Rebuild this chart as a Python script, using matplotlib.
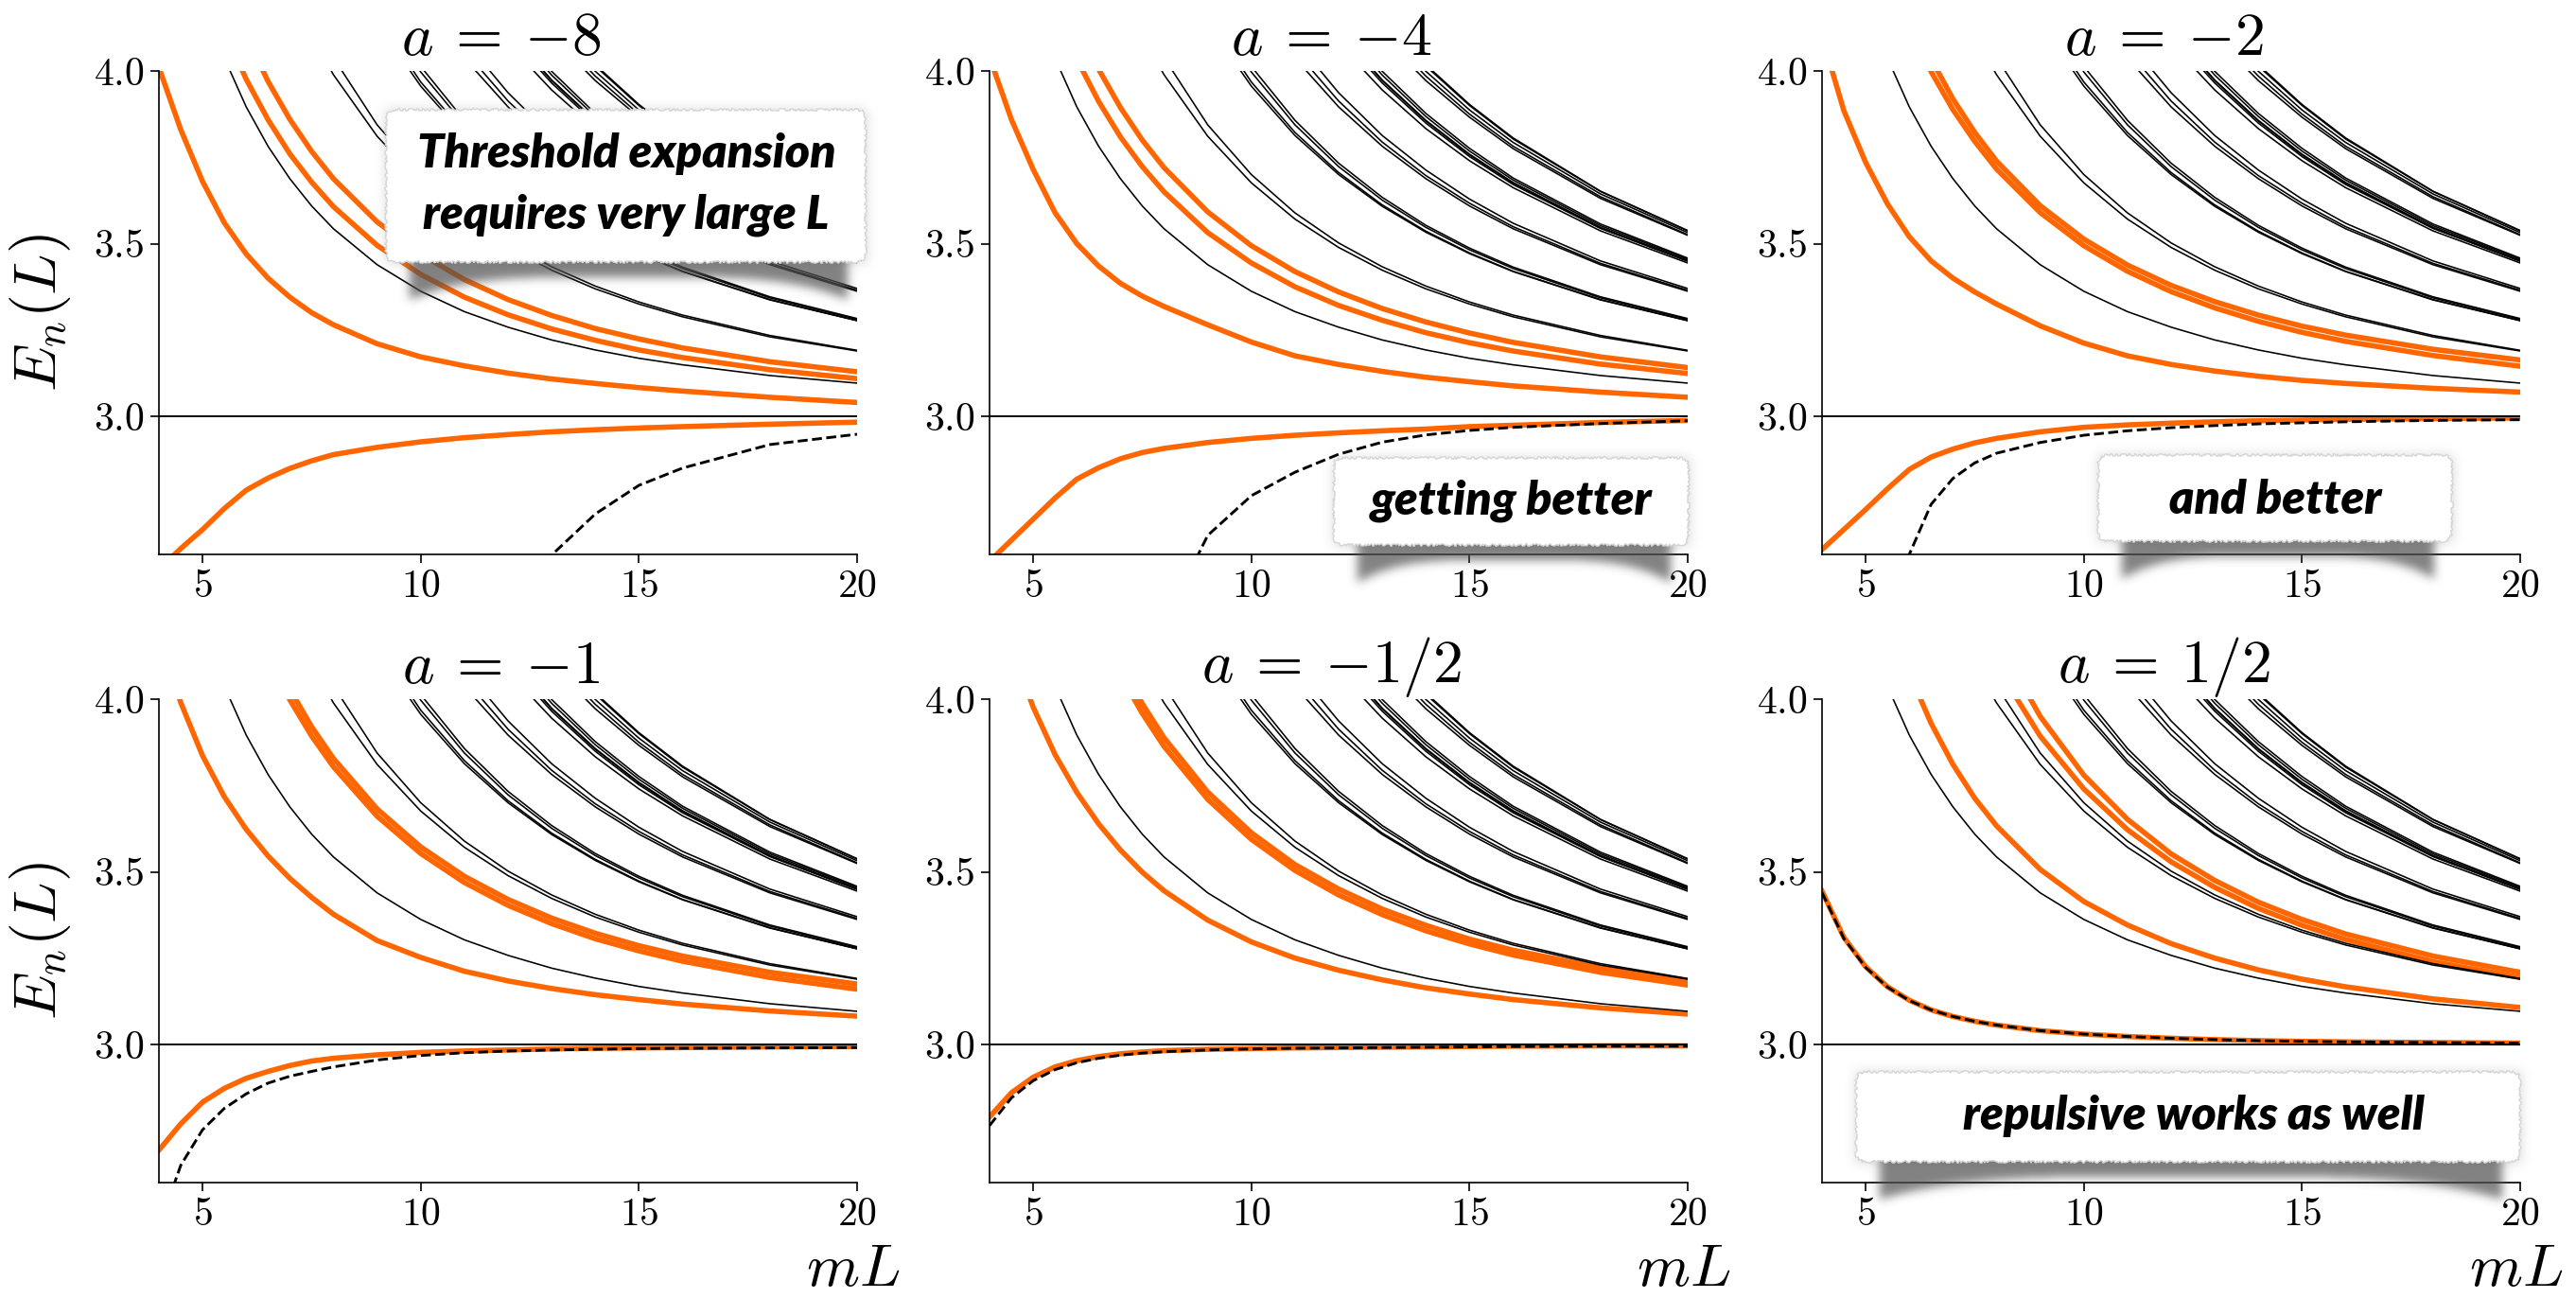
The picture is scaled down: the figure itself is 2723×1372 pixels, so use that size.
import numpy as np
import matplotlib
matplotlib.use("Agg")
import matplotlib.pyplot as plt
from matplotlib.patches import FancyBboxPatch

nan = np.nan

# box size mL on the x axis
L = [4, 4.5, 5, 5.5, 6, 6.5, 7, 7.5, 8, 9, 10, 11, 12, 13, 14, 15, 16, 18, 20]

# free three particle levels (black), same in every panel
free_A = [nan]*3 + [4.037, 3.896, 3.782, 3.688, 3.609, 3.543, 3.439, 3.362, 3.303, 3.258, 3.221, 3.192, 3.168, 3.149, 3.118, 3.096]
free_B = [nan]*7 + [4.160, 4.038, 3.844, 3.700, 3.589, 3.502, 3.433, 3.377, 3.331, 3.293, 3.234, 3.191]
free_C = [nan]*7 + [4.101, 3.989, 3.811, 3.676, 3.571, 3.489, 3.423, 3.369, 3.325, 3.288, 3.230, 3.189]
free_D = [nan]*9 + [4.157, 3.968, 3.822, 3.706, 3.612, 3.536, 3.473, 3.420, 3.338, 3.277]
free_E = [nan]*9 + [4.194, 3.997, 3.844, 3.723, 3.626, 3.547, 3.482, 3.428, 3.343, 3.281]
free_F = [nan]*9 + [4.138, 3.956, 3.813, 3.700, 3.608, 3.533, 3.471, 3.419, 3.337, 3.277]
free_G = [nan]*9 + [4.216, 4.013, 3.857, 3.733, 3.634, 3.553, 3.487, 3.432, 3.346, 3.283]
free_H = [nan]*11 + [4.059, 3.913, 3.794, 3.697, 3.617, 3.549, 3.443, 3.365]
free_I = [nan]*11 + [4.037, 3.896, 3.782, 3.688, 3.609, 3.543, 3.439, 3.362]
free_J = [nan]*11 + [4.089, 3.937, 3.813, 3.713, 3.629, 3.559, 3.450, 3.370]
free_K = [nan]*12 + [4.148, 3.999, 3.877, 3.776, 3.690, 3.557, 3.458]
free_L = [nan]*12 + [4.117, 3.974, 3.857, 3.759, 3.677, 3.547, 3.451]
free_M = [nan]*12 + [4.134, 3.988, 3.868, 3.768, 3.684, 3.552, 3.455]
free_N = [nan]*12 + [4.105, 3.965, 3.849, 3.752, 3.671, 3.544, 3.449]
free_O = [nan]*12 + [4.115, 3.972, 3.855, 3.757, 3.675, 3.546, 3.450]
free_P = [nan]*12 + [4.079, 3.945, 3.833, 3.740, 3.662, 3.537, 3.444]
free_Q = [nan]*13 + [4.133, 3.999, 3.887, 3.793, 3.644, 3.532]
free_R = [nan]*13 + [4.152, 4.014, 3.900, 3.803, 3.651, 3.537]
free_S = [nan]*13 + [4.099, 3.972, 3.866, 3.775, 3.631, 3.524]
free_T = [nan]*13 + [4.156, 4.018, 3.903, 3.806, 3.652, 3.538]
free_U = [nan]*13 + [4.116, 3.985, 3.875, 3.782, 3.636, 3.526]

# a = -8
m8_ground = [2.556, 2.617, 2.672, 2.733, 2.786, 2.821, 2.849, 2.871, 2.889, 2.910, 2.926, 2.938, 2.947, 2.955, 2.961, 2.966, 2.970, 2.977, 2.983]
m8_lev1 = [4.01, 3.83, 3.68, 3.56, 3.47, 3.40, 3.345, 3.30, 3.265, 3.21, 3.172, 3.146, 3.125, 3.108, 3.095, 3.083, 3.073, 3.055, 3.040]
m8_lev2 = [nan]*3 + [4.118, 3.976, 3.859, 3.760, 3.678, 3.607, 3.495, 3.411, 3.345, 3.294, 3.253, 3.220, 3.192, 3.170, 3.135, 3.109]
m8_lev3 = [nan]*4 + [4.102, 3.970, 3.860, 3.767, 3.688, 3.563, 3.469, 3.396, 3.338, 3.292, 3.254, 3.224, 3.198, 3.158, 3.129]
m8_thr = [nan]*12 + [2.40, 2.598, 2.717, 2.80, 2.85, 2.918, 2.948]

# a = -4
m4_ground = [2.58, 2.641, 2.702, 2.763, 2.818, 2.851, 2.877, 2.895, 2.907, 2.924, 2.936, 2.945, 2.952, 2.958, 2.963, 2.970, 2.974, 2.982, 2.988]
m4_lev1 = [4.04, 3.86, 3.715, 3.59, 3.50, 3.435, 3.385, 3.348, 3.318, 3.265, 3.215, 3.175, 3.15, 3.13, 3.113, 3.10, 3.088, 3.07, 3.055]
m4_lev2 = [nan]*3 + [4.183, 4.034, 3.912, 3.809, 3.723, 3.650, 3.532, 3.444, 3.375, 3.321, 3.278, 3.242, 3.213, 3.189, 3.151, 3.124]
m4_lev3 = [nan]*4 + [4.136, 4.005, 3.894, 3.800, 3.720, 3.592, 3.494, 3.419, 3.360, 3.312, 3.273, 3.241, 3.214, 3.172, 3.141]
m4_thr = [nan]*8 + [2.40, 2.655, 2.77, 2.838, 2.89, 2.925, 2.946, 2.959, 2.968, 2.979, 2.987]

# a = -2
m2_ground = [2.614, 2.672, 2.73, 2.79, 2.846, 2.882, 2.905, 2.923, 2.936, 2.955, 2.968, 2.975, 2.980, 2.984, 2.987, 2.989, 2.991, 2.993, 2.995]
m2_lev1 = [4.10, 3.885, 3.735, 3.615, 3.52, 3.45, 3.40, 3.36, 3.325, 3.262, 3.212, 3.175, 3.150, 3.131, 3.116, 3.104, 3.095, 3.081, 3.070]
m2_lev2 = [nan]*4 + [4.128, 3.998, 3.888, 3.796, 3.716, 3.590, 3.494, 3.420, 3.361, 3.314, 3.275, 3.243, 3.217, 3.176, 3.145]
m2_lev3 = [nan]*4 + [4.173, 4.035, 3.919, 3.822, 3.739, 3.610, 3.513, 3.438, 3.379, 3.332, 3.293, 3.261, 3.235, 3.194, 3.163]
m2_thr = [nan]*3 + [2.30, 2.60, 2.745, 2.82, 2.865, 2.893, 2.924, 2.945, 2.958, 2.967, 2.973, 2.978, 2.981, 2.984, 2.988, 2.990]

# a = -1
m1_ground = [2.694, 2.77, 2.833, 2.873, 2.902, 2.922, 2.939, 2.952, 2.960, 2.970, 2.977, 2.981, 2.984, 2.987, 2.989, 2.990, 2.991, 2.993, 2.994]
m1_lev1 = [4.19, 3.99, 3.836, 3.717, 3.623, 3.546, 3.481, 3.426, 3.377, 3.301, 3.252, 3.212, 3.184, 3.162, 3.144, 3.130, 3.117, 3.097, 3.082]
m1_lev2 = [nan]*5 + [4.122, 3.998, 3.893, 3.804, 3.661, 3.553, 3.469, 3.403, 3.350, 3.306, 3.271, 3.241, 3.194, 3.160]
m1_lev3 = [nan]*5 + [4.160, 4.029, 3.920, 3.828, 3.682, 3.572, 3.487, 3.420, 3.366, 3.322, 3.286, 3.256, 3.209, 3.175]
m1_thr = [2.47, 2.65, 2.753, 2.815, 2.857, 2.888, 2.908, 2.922, 2.935, 2.955, 2.968, 2.976, 2.981, 2.984, 2.986, 2.988, 2.989, 2.990, 2.991]

# a = -1/2
mh_ground = [2.79, 2.86, 2.905, 2.935, 2.953, 2.965, 2.973, 2.978, 2.982, 2.986, 2.988, 2.990, 2.991, 2.992, 2.993, 2.994, 2.995, 2.996, 2.996]
mh_lev1 = [nan, 4.148, 3.977, 3.840, 3.730, 3.639, 3.563, 3.499, 3.445, 3.360, 3.297, 3.250, 3.215, 3.187, 3.164, 3.146, 3.130, 3.106, 3.088]
mh_lev2 = [nan]*6 + [4.070, 3.959, 3.863, 3.710, 3.594, 3.504, 3.433, 3.376, 3.329, 3.291, 3.259, 3.209, 3.172]
mh_lev3 = [nan]*6 + [4.103, 3.987, 3.888, 3.731, 3.613, 3.521, 3.450, 3.392, 3.345, 3.305, 3.273, 3.222, 3.185]
mh_thr = [2.765, 2.845, 2.895, 2.927, 2.947, 2.960, 2.969, 2.975, 2.979, 2.984, 2.987, 2.989, 2.990, 2.991, 2.992, 2.993, 2.994, 2.995, 2.995]

# a = 1/2
ph_ground = [3.444, 3.31, 3.225, 3.167, 3.128, 3.10, 3.081, 3.067, 3.056, 3.040, 3.030, 3.023, 3.018, 3.014, 3.011, 3.009, 3.0075, 3.0055, 3.004]
ph_lev1 = [nan]*4 + [4.075, 3.930, 3.811, 3.713, 3.633, 3.507, 3.414, 3.346, 3.292, 3.250, 3.216, 3.189, 3.167, 3.132, 3.107]
ph_lev2 = [nan]*8 + [4.096, 3.893, 3.740, 3.622, 3.529, 3.455, 3.394, 3.345, 3.304, 3.240, 3.194]
ph_lev3 = [nan]*8 + [4.175, 3.950, 3.780, 3.652, 3.552, 3.475, 3.412, 3.362, 3.320, 3.256, 3.209]
ph_thr = [3.440, 3.307, 3.223, 3.166, 3.127, 3.10, 3.081, 3.067, 3.056, 3.040, 3.030, 3.023, 3.018, 3.014, 3.011, 3.009, 3.0075, 3.0055, 3.004]

titles = [r"$a\:=\:{-}8$", r"$a\:=\:{-}4$", r"$a\:=\:{-}2$",
          r"$a\:=\:{-}1$", r"$a\:=\:{-}1/2$", r"$a\:=\:1/2$"]

free = [free_A, free_B, free_C, free_D, free_E, free_F, free_G, free_H, free_I, free_J,
        free_K, free_L, free_M, free_N, free_O, free_P, free_Q, free_R, free_S, free_T, free_U]
panels = [
    ([m8_ground, m8_lev1, m8_lev2, m8_lev3], m8_thr),
    ([m4_ground, m4_lev1, m4_lev2, m4_lev3], m4_thr),
    ([m2_ground, m2_lev1, m2_lev2, m2_lev3], m2_thr),
    ([m1_ground, m1_lev1, m1_lev2, m1_lev3], m1_thr),
    ([mh_ground, mh_lev1, mh_lev2, mh_lev3], mh_thr),
    ([ph_ground, ph_lev1, ph_lev2, ph_lev3], ph_thr),
]

plt.rcParams["font.family"] = "serif"
plt.rcParams["font.serif"] = ["cmr10"]
plt.rcParams["mathtext.fontset"] = "cm"
plt.rcParams["axes.formatter.use_mathtext"] = True

ORANGE = "#ff6600"
W, H = 2723, 1372
fig = plt.figure(figsize=(W / 100, H / 100), dpi=100)

col_left = [168, 1046, 1926]
row_top = [75, 739]
aw, ah = 738, 511

for i, (title, (oranges, thr)) in enumerate(zip(titles, panels)):
    r, c = divmod(i, 3)
    ax = fig.add_axes([col_left[c] / W, 1 - (row_top[r] + ah) / H, aw / W, ah / H])
    for y in oranges:
        ax.plot(L, y, color=ORANGE, lw=4.0, zorder=2)
    for y in free:
        ax.plot(L, y, color="k", lw=1.15, zorder=3)
    ax.plot(L, thr, color="k", lw=2.1, ls=(0, (3.6, 1.6)), zorder=4)
    ax.axhline(3.0, color="k", lw=1.4, zorder=3)
    ax.set_xlim(4, 20)
    ax.set_ylim(2.6, 4.0)
    ax.set_xticks([5, 10, 15, 20])
    ax.set_yticks([3.0, 3.5, 4.0])
    ax.spines["top"].set_visible(False)
    ax.spines["right"].set_visible(False)
    for s in ("left", "bottom"):
        ax.spines[s].set_linewidth(1.2)
    ax.tick_params(direction="out", length=6.5, width=1.2, labelsize=30, pad=5)
    ax.set_title(title, fontsize=46, pad=12, x=0.49)
    if c == 0:
        ax.set_ylabel(r"$E_n(L)$", fontsize=46)
        ax.yaxis.set_label_coords(-0.123, 0.5)
    if r == 1:
        ax.set_xlabel(r"$mL$", fontsize=46, ha="right")
        ax.xaxis.set_label_coords(1.062, -0.125)


def blur(img, sigma):
    rad = int(3 * sigma)
    t = np.arange(-rad, rad + 1)
    k = np.exp(-t**2 / (2 * sigma**2))
    k /= k.sum()
    img = np.apply_along_axis(lambda m: np.convolve(m, k, mode="same"), 0, img)
    img = np.apply_along_axis(lambda m: np.convolve(m, k, mode="same"), 1, img)
    return img


# overlay in figure pixels for the paper notes
ov = fig.add_axes([0, 0, 1, 1])
ov.patch.set_visible(False)
ov.axis("off")


def note(x0, y0, x1, y1, lines, baselines, xc, size=36):
    m = 60
    gx0, gy0 = x0 - m, y0 - m
    w, h = int(x1 - x0 + 2 * m), int(y1 - y0 + 2 * m + 30)
    yy, xx = np.mgrid[0:h, 0:w]
    px = xx + gx0
    py = yy + gy0
    inside = ((px >= x0) & (px <= x1) & (py >= y0) & (py <= y1)).astype(float)
    halo = blur(inside, 6)
    img = np.zeros((h, w, 4))
    img[..., :3] = 0.55
    img[..., 3] = 0.32 * halo
    ov.imshow(img, extent=(gx0, gx0 + w, gy0 + h, gy0), origin="upper",
              interpolation="bilinear", aspect="auto", zorder=1)

    sx0, sx1 = x0 + 25, x1 - 20
    cx, hw = (sx0 + sx1) / 2, (sx1 - sx0) / 2
    u = np.clip((px - cx) / hw, -1, 1)
    depth = 15 + 24 * u**4
    sh = ((px >= sx0) & (px <= sx1) & (py >= y1 - 20) & (py <= y1 + depth)).astype(float)
    sh = blur(sh, 5)
    img2 = np.zeros((h, w, 4))
    img2[..., :3] = 0.32
    img2[..., 3] = 0.72 * sh
    ov.imshow(img2, extent=(gx0, gx0 + w, gy0 + h, gy0), origin="upper",
              interpolation="bilinear", aspect="auto", zorder=2)

    box = FancyBboxPatch((x0, y0), x1 - x0, y1 - y0,
                         boxstyle="round,pad=0,rounding_size=10",
                         fc="white", ec="#d5d5d5", lw=1.0, zorder=3)
    box.set_sketch_params(1.2, 5, 6)
    ov.add_patch(box)
    for s, yb in zip(lines, baselines):
        ov.text(xc, yb, s, ha="center", va="baseline", fontsize=size,
                family="Lato", weight="heavy", style="italic", zorder=4)


note(408, 116, 915, 277, ["Threshold expansion", "requires very large L"], [177, 242], 662)
note(1410, 484, 1785, 576, ["getting better"], [543], 1598)
note(2218, 481, 2592, 572, ["and better"], [543], 2405)
note(1962, 1133, 2664, 1228, ["repulsive works as well"], [1194], 2319)

ov.set_xlim(0, W)
ov.set_ylim(H, 0)

fig.savefig("out.png", dpi=100, facecolor="white")
